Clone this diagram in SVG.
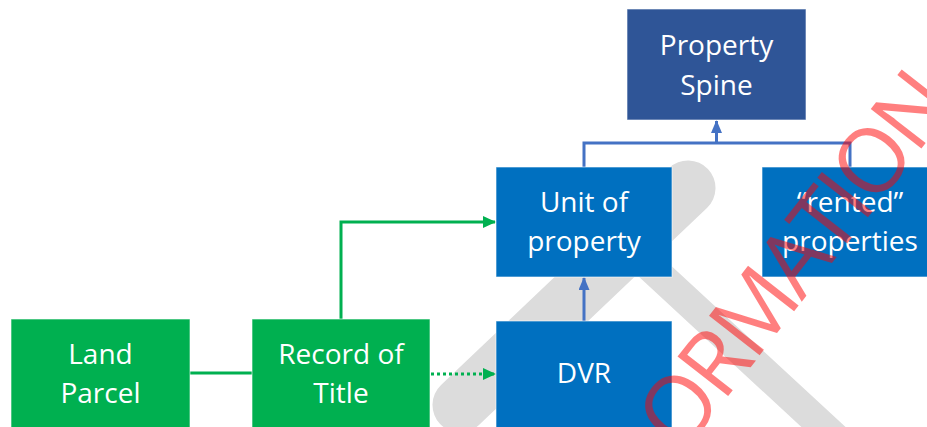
<svg xmlns="http://www.w3.org/2000/svg" width="927" height="427" viewBox="0 0 927 427">
<style>
.box{stroke:#ffffff;stroke-opacity:0.6;stroke-width:1}
.green{fill:#00B050}
.blue{fill:#0070C0}
.dark{fill:#2F5597}
.lbl{font-family:"Open Sans","Liberation Sans",sans-serif;font-size:28px;fill:#ffffff;text-anchor:middle}
.gc{stroke:#00B050;stroke-width:3;fill:none}
.bc{stroke:#4472C4;stroke-width:3;fill:none}
.wm{font-family:"Open Sans","Liberation Sans",sans-serif;font-size:90px;letter-spacing:-4px;fill:#FF0000;fill-opacity:0.5}
</style>
<defs>
<marker id="ag" markerUnits="userSpaceOnUse" markerWidth="13" markerHeight="12" refX="12" refY="6" orient="auto">
<path d="M0,0 L13,6 L0,12 Z" fill="#00B050"/>
</marker>
<marker id="ab" markerUnits="userSpaceOnUse" markerWidth="13" markerHeight="11" refX="12" refY="5.5" orient="auto">
<path d="M0,0 L13,5.5 L0,11 Z" fill="#4472C4"/>
</marker>
</defs>
<rect width="927" height="427" fill="#ffffff"/>
<g id="watermark-shape" stroke="#DCDCDC" stroke-linecap="round" fill="none">
<path d="M460,405 L688,188" stroke-width="55"/>
<path d="M578,200 L910,507" stroke-width="30"/>
</g>
<g id="connectors">
<path class="gc" d="M190,373 L252,373"/>
<path class="gc" d="M341,319 L341,222 L495,222" marker-end="url(#ag)"/>
<path class="gc" d="M431,374 L495,374" stroke-dasharray="3,3" marker-end="url(#ag)"/>
<path class="bc" d="M584,321 L584,278" marker-end="url(#ab)"/>
<path class="bc" d="M584,167 L584,143 L850,143 L850,167"/>
<path class="bc" d="M716.5,143 L716.5,121" marker-end="url(#ab)"/>
</g>
<g id="node-spine">
<rect class="box dark" x="627" y="9" width="179" height="111"/>
<text class="lbl" x="716.5" y="55">Property</text>
<text class="lbl" x="716.5" y="95">Spine</text>
</g>
<g id="node-unit">
<rect class="box blue" x="496" y="167" width="176" height="110"/>
<text class="lbl" x="584" y="212">Unit of</text>
<text class="lbl" x="584" y="251">property</text>
</g>
<g id="node-rented">
<rect class="box blue" x="762" y="167" width="176" height="110"/>
<text class="lbl" x="850" y="212">“rented”</text>
<text class="lbl" x="850" y="251">properties</text>
</g>
<g id="node-dvr">
<rect class="box blue" x="496" y="321" width="176" height="110"/>
<text class="lbl" x="584" y="383">DVR</text>
</g>
<g id="node-land">
<rect class="box green" x="11" y="319" width="179" height="112"/>
<text class="lbl" x="100.5" y="364">Land</text>
<text class="lbl" x="100.5" y="403">Parcel</text>
</g>
<g id="node-record">
<rect class="box green" x="252" y="319" width="178" height="112"/>
<text class="lbl" x="341" y="364">Record of</text>
<text class="lbl" x="341" y="403">Title</text>
</g>
<text class="wm" transform="translate(682,455) rotate(-52)">ORMATION</text>
</svg>
